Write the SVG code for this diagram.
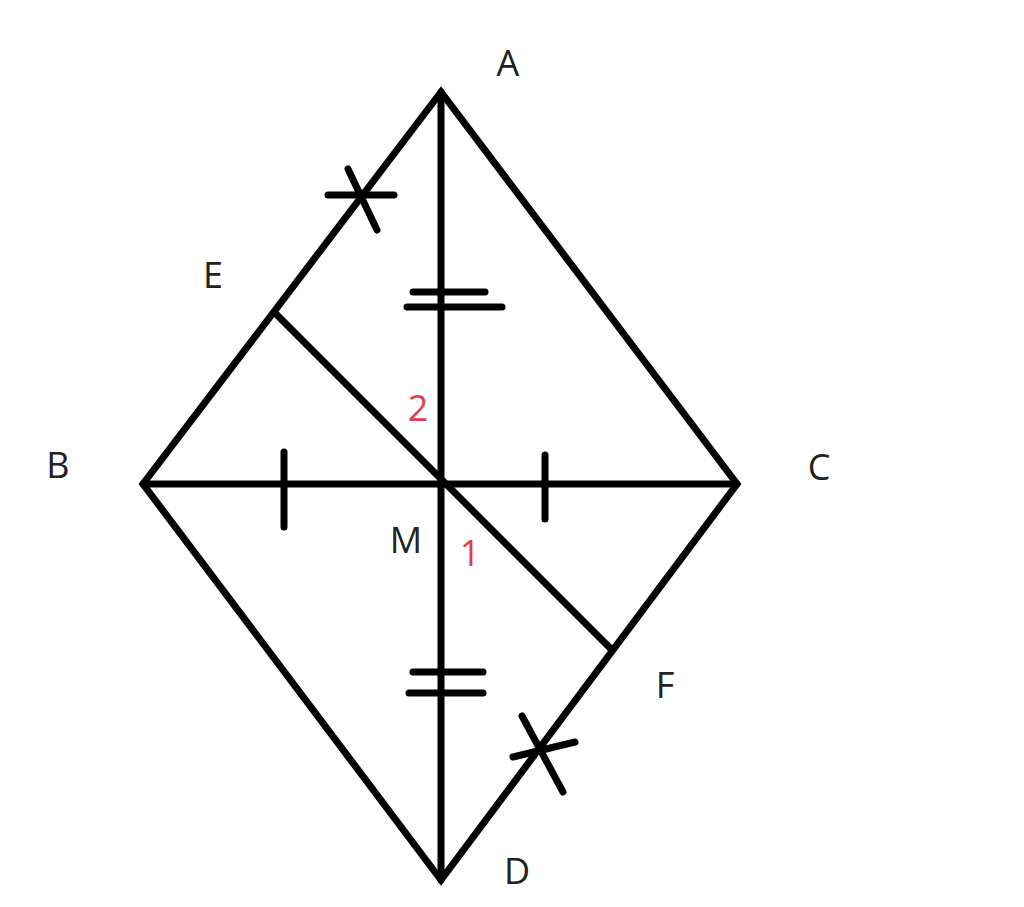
<svg xmlns="http://www.w3.org/2000/svg" width="1024" height="907" viewBox="0 0 1024 907">
<style>
.l{stroke:#000;stroke-width:7;stroke-linecap:round;fill:none}
.t{font-family:"Open Sans","Liberation Sans",sans-serif;font-size:36px;fill:#222;text-anchor:middle}
.r{fill:#e03c4a}
</style>
<rect width="1024" height="907" fill="#fff"/>
<g id="connectors">
<path class="l" d="M441,92 L143,484 L441,880 L737,484 Z"/>
<line class="l" x1="441" y1="92" x2="441" y2="880"/>
<line class="l" x1="143" y1="484" x2="737" y2="484"/>
<line class="l" x1="276" y1="314" x2="610" y2="648"/>
<line class="l" x1="328" y1="195" x2="394" y2="195"/>
<line class="l" x1="348" y1="169" x2="377" y2="230"/>
<line class="l" x1="513" y1="757" x2="575" y2="742"/>
<line class="l" x1="522" y1="716" x2="563" y2="792"/>
<line class="l" x1="413" y1="292" x2="485" y2="292"/>
<line class="l" x1="407" y1="307" x2="502" y2="307"/>
<line class="l" x1="413" y1="672" x2="483" y2="672"/>
<line class="l" x1="409" y1="693" x2="483" y2="693"/>
<line class="l" x1="284" y1="452" x2="284" y2="527"/>
<line class="l" x1="545" y1="455" x2="545" y2="519"/>
</g>
<g id="A"><text class="t" x="508" y="76">A</text></g>
<g id="B"><text class="t" x="58" y="478">B</text></g>
<g id="C"><text class="t" x="819" y="480">C</text></g>
<g id="D"><text class="t" x="517" y="884">D</text></g>
<g id="E"><text class="t" x="213" y="288">E</text></g>
<g id="F"><text class="t" x="665" y="698">F</text></g>
<g id="M"><text class="t" x="406" y="553">M</text></g>
<g id="angle2"><text class="t r" x="418" y="421">2</text></g>
<g id="angle1"><text class="t r" x="470" y="566">1</text></g>
</svg>
